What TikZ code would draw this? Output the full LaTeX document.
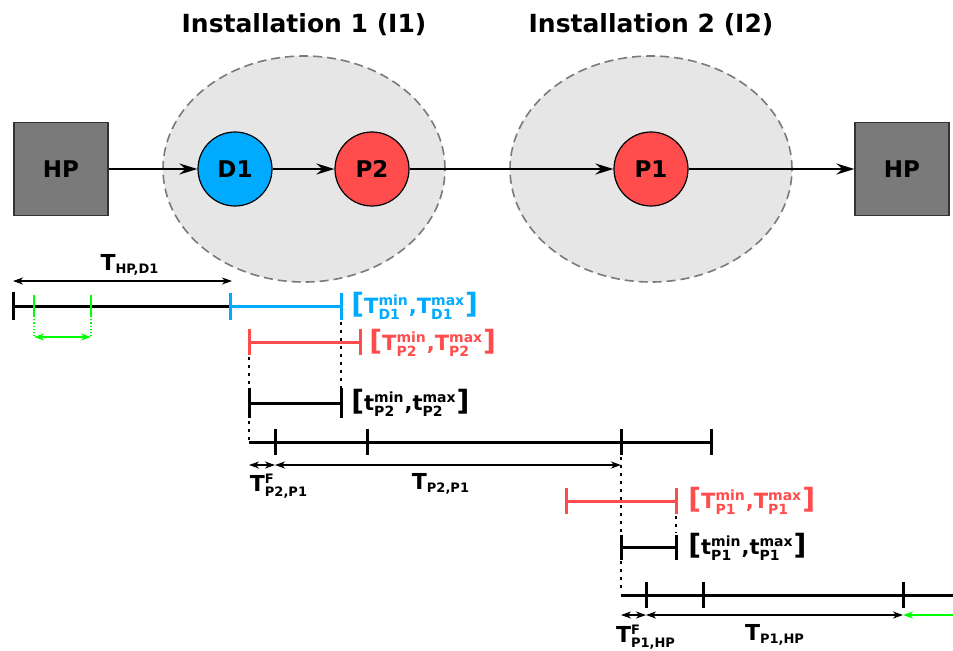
\documentclass[tikz,border=0pt]{standalone}
\usepackage{fontspec}
\setmainfont{DejaVu Sans}
\usepackage{amsmath}
\usetikzlibrary{arrows.meta, positioning, shapes.geometric}
\DeclareMathSizes{11}{11}{6.5}{5}
\DeclareMathSizes{10.5}{10.5}{7}{5}
\definecolor{hpgray}{HTML}{7A7A7A}
\definecolor{hpedge}{HTML}{333333}
\definecolor{instfill}{HTML}{E6E6E6}
\definecolor{instedge}{HTML}{7A7A7A}
\definecolor{dblue}{HTML}{00AAFF}
\definecolor{pred}{HTML}{FF4D4D}
\definecolor{fgreen}{HTML}{00FF00}
\newcommand{\bigbr}[1]{{\fontsize{14}{14}\selectfont #1}}
\tikzset{
  >={Stealth[length=5pt, width=3.5pt, inset=1.5pt]},
  %
  hpbox/.style={draw=hpedge, line width=0.6pt, fill=hpgray, minimum width=47pt,
                minimum height=46.5pt, font=\fontsize{11.5}{13}\selectfont\bfseries},
  site/.style={circle, draw=black, line width=0.6pt, minimum size=37pt, inner sep=0pt,
               font=\fontsize{11.5}{13}\selectfont\bfseries},
  inst/.style={ellipse, draw=instedge, fill=instfill, line width=0.8pt,
               dash pattern=on 4.5pt off 2.5pt, minimum width=141pt, minimum height=113pt},
  ttl/.style={font=\fontsize{12.5}{15}\selectfont\bfseries},
  %
  flow/.style={line width=1pt, -{Stealth[length=9pt, width=5.5pt, inset=3pt]}},
  bar/.style={line width=1.5pt},
  tick/.style={line width=1.5pt},
  dots/.style={line width=1.3pt, dash pattern=on 1.3pt off 2.7pt},
  dim/.style={line width=0.6pt, <->},
  %
  lbl/.style={font=\fontsize{11}{13}\selectfont\bfseries, inner sep=1pt},
  win/.style={font=\fontsize{10.5}{13}\selectfont\bfseries, inner sep=1pt, anchor=west},
}

\begin{document}
\begin{tikzpicture}[x=0.5pt, y=-0.5pt]
  \useasboundingbox (0,0) rectangle (953,650);

  % -----------------------------------------------------------------------
  % installations and the route
  % -----------------------------------------------------------------------
  \node[inst] (inst1) at (304,169) {};
  \node[inst] (inst2) at (651,169) {};
  \node[ttl] (ttl1) at (304,25) {Installation 1 (I1)};
  \node[ttl] (ttl2) at (651,25) {Installation 2 (I2)};

  \node[hpbox] (hpL) at (61,169) {HP};
  \node[hpbox] (hpR) at (902,169) {HP};
  \node[site, fill=dblue] (d1) at (235,169) {D1};
  \node[site, fill=pred]  (p2) at (372,169) {P2};
  \node[site, fill=pred]  (p1) at (651,169) {P1};

  \draw[flow] (hpL) -- (d1);
  \draw[flow] (d1) -- (p2);
  \draw[flow] (p2) -- (p1);
  \draw[flow] (p1) -- (hpR);

  % -----------------------------------------------------------------------
  % time line
  % -----------------------------------------------------------------------
  % HP -> D1
  \draw[dim] (13,281) -- (232,281);
  \node[lbl] (tHPD1) at (130,265) {T$_{\text{HP,D1}}$};
  \draw[bar] (13,306) -- (230,306);
  \draw[tick] (13,292) -- (13,320);
  \foreach \x in {34,91} {
    \draw[fgreen, line width=1pt] (\x,295) -- (\x,316);
    \draw[fgreen, line width=0.6pt, densely dotted] (\x,316) -- (\x,337);
  }
  \draw[dim, fgreen, line width=1pt] (34,337) -- (91,337);

  % window of D1
  \draw[bar, dblue] (230,306) -- (341,306);
  \foreach \x in {230,341} { \draw[tick, dblue] (\x,293) -- (\x,320); }
  \node[win, text=dblue] (winD1) at (349,306)
    {\bigbr{[}T$^{\text{min}}_{\text{D1}}$,T$^{\text{max}}_{\text{D1}}$\bigbr{]}};

  % window of P2
  \draw[bar, pred] (249,342) -- (360,342);
  \foreach \x in {249,360} { \draw[tick, pred] (\x,329) -- (\x,355); }
  \node[win, text=pred] (winP2) at (367,343)
    {\bigbr{[}T$^{\text{min}}_{\text{P2}}$,T$^{\text{max}}_{\text{P2}}$\bigbr{]}};

  \draw[dots] (341,322) -- (341,390);
  \draw[dots] (249,357) -- (249,440);

  % service at P2
  \draw[bar] (249,403) -- (341,403);
  \foreach \x in {249,341} { \draw[tick] (\x,388) -- (\x,418); }
  \node[win] (srvP2) at (349,403)
    {\bigbr{[}t$^{\text{min}}_{\text{P2}}$,t$^{\text{max}}_{\text{P2}}$\bigbr{]}};

  % P2 -> P1
  \draw[bar] (249,442) -- (711,442);
  \foreach \x in {275,367,621,711} { \draw[tick] (\x,429) -- (\x,455); }
  \draw[dim] (249,465) -- (275,465);
  \draw[dim] (275,465) -- (621,465);
  \node[lbl] (tFP2P1) at (279,486) {T$^{\text{F}}_{\text{P2,P1}}$};
  \node[lbl] (tP2P1) at (441,484) {T$_{\text{P2,P1}}$};

  \draw[dots] (621,457) -- (621,592);

  % window of P1
  \draw[bar, pred] (566,501) -- (676,501);
  \foreach \x in {566,676} { \draw[tick, pred] (\x,488) -- (\x,514); }
  \node[win, text=pred] (winP1) at (686,501)
    {\bigbr{[}T$^{\text{min}}_{\text{P1}}$,T$^{\text{max}}_{\text{P1}}$\bigbr{]}};

  \draw[dots] (676,516) -- (676,533);

  % service at P1
  \draw[bar] (621,547) -- (676,547);
  \foreach \x in {621,676} { \draw[tick] (\x,535) -- (\x,560); }
  \node[win] (srvP1) at (686,547)
    {\bigbr{[}t$^{\text{min}}_{\text{P1}}$,t$^{\text{max}}_{\text{P1}}$\bigbr{]}};

  % P1 -> HP
  \draw[bar] (621,595) -- (953,595);
  \foreach \x in {646,703,903} { \draw[tick] (\x,582) -- (\x,608); }
  \draw[dim] (621,615) -- (646,615);
  \draw[dim] (646,615) -- (903,615);
  \draw[fgreen, line width=1pt, <-] (903,615) -- (953,615);
  \node[lbl] (tFP1HP) at (646,637) {T$^{\text{F}}_{\text{P1,HP}}$};
  \node[lbl] (tP1HP) at (775,635) {T$_{\text{P1,HP}}$};

\end{tikzpicture}
\end{document}
